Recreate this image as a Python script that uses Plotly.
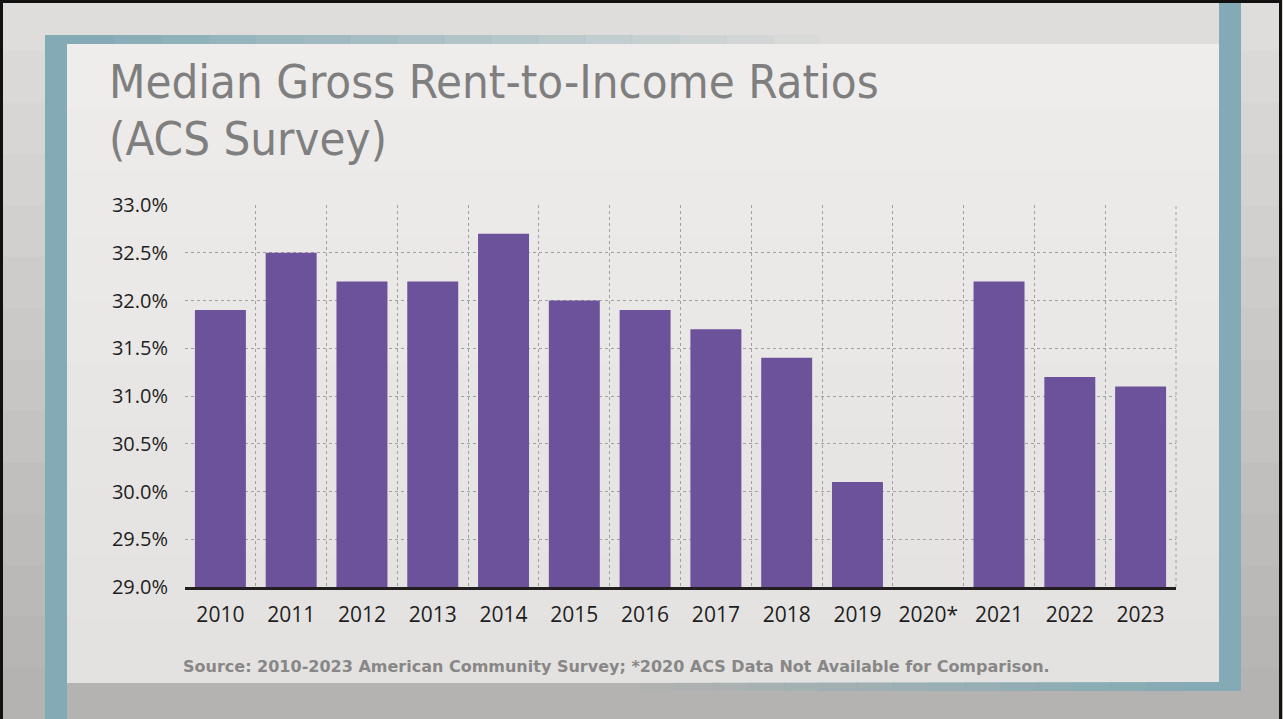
import plotly.graph_objects as go

# Median gross rent as a share of household income, ACS 1-year estimates
years = ["2010", "2011", "2012", "2013", "2014", "2015", "2016",
         "2017", "2018", "2019", "2020*", "2021", "2022", "2023"]
ratios = [31.9, 32.5, 32.2, 32.2, 32.7, 32.0, 31.9,
          31.7, 31.4, 30.1, None, 32.2, 31.2, 31.1]
y_ticks = [29.0, 29.5, 30.0, 30.5, 31.0, 31.5, 32.0, 32.5, 33.0]

title_lines = ["Median Gross Rent-to-Income Ratios", "(ACS Survey)"]
source_note = ("Source: 2010-2023 American Community Survey; "
               "*2020 ACS Data Not Available for Comparison.")

W, H = 1283, 719
L, R, T, B = 185, 1176, 205, 587   # plot area in pixels


def fx(px):
    return (px - L) / (R - L)


def fy(py):
    return (B - py) / (B - T)


TEAL = "#84abb5"

shapes = []

# outer backdrop: light at the top, darker toward the bottom
bands = 14
for i in range(bands):
    t = i / (bands - 1)
    c = int(222 - 42 * t)
    shapes.append(dict(type="rect", xref="paper", yref="paper",
                       x0=fx(0), x1=fx(W), y0=fy((i + 1) * H / bands + 1), y1=fy(i * H / bands),
                       fillcolor=f"rgb({c},{c - 1},{c - 3})", line_width=0, layer="below"))

# slide panel, slightly greyer toward the bottom
pbands = 10
for i in range(pbands):
    t = i / (pbands - 1)
    c0 = int(239 - 11 * t)
    y0p = 44 + i * (682 - 44) / pbands
    y1p = 44 + (i + 1) * (682 - 44) / pbands + 1
    shapes.append(dict(type="rect", xref="paper", yref="paper",
                       x0=fx(67), x1=fx(1219), y0=fy(y1p), y1=fy(y0p),
                       fillcolor=f"rgb({c0},{c0 - 2},{c0 - 4})", line_width=0, layer="below"))

# teal frame: left and right bars
shapes.append(dict(type="rect", xref="paper", yref="paper",
                   x0=fx(45), x1=fx(67), y0=fy(H + 2), y1=fy(35),
                   fillcolor=TEAL, line_width=0, layer="below"))
shapes.append(dict(type="rect", xref="paper", yref="paper",
                   x0=fx(1219), x1=fx(1241), y0=fy(691), y1=fy(0),
                   fillcolor=TEAL, line_width=0, layer="below"))

# top bar fading out to the right, bottom bar fading out to the left
segs = 16
for i in range(segs):
    a = 1 - i / segs
    xa = 67 + i * (820 - 67) / segs
    xb = 67 + (i + 1) * (820 - 67) / segs + 0.5
    shapes.append(dict(type="rect", xref="paper", yref="paper",
                       x0=fx(xa), x1=fx(xb), y0=fy(44), y1=fy(35),
                       fillcolor=f"rgba(132,171,181,{a:.3f})", line_width=0, layer="below"))
    xa2 = 1219 - (i + 1) * (1219 - 640) / segs - 0.5
    xb2 = 1219 - i * (1219 - 640) / segs
    shapes.append(dict(type="rect", xref="paper", yref="paper",
                       x0=fx(xa2), x1=fx(xb2), y0=fy(691), y1=fy(682),
                       fillcolor=f"rgba(132,171,181,{a:.3f})", line_width=0, layer="below"))

# outer black border
shapes.append(dict(type="rect", xref="paper", yref="paper",
                   x0=fx(1.5), x1=fx(W - 2.5), y0=fy(H + 5), y1=fy(1.5),
                   fillcolor="rgba(0,0,0,0)", line=dict(color="#111111", width=3),
                   layer="above"))

# right border of the grid box
shapes.append(dict(type="line", xref="paper", yref="paper",
                   x0=1, x1=1, y0=0, y1=1,
                   line=dict(color="#a0a0a0", width=1, dash="3px,3px"), layer="below"))

fig = go.Figure()
fig.add_trace(go.Bar(
    x=years, y=ratios,
    marker=dict(color="#6b529b", line_width=0),
    hovertemplate="%{x}: %{y:.1f}%<extra></extra>",
))

title_font = dict(family="DejaVu Sans Condensed, DejaVu Sans", size=47, color="#7f7f7f")

fig.update_layout(
    width=W, height=H,
    margin=dict(l=L, r=W - R, t=T, b=H - B, pad=0),
    paper_bgcolor="#d6d4d0",
    plot_bgcolor="rgba(0,0,0,0)",
    showlegend=False,
    bargap=0.28,
    shapes=shapes,
    xaxis=dict(
        type="category",
        tickson="boundaries",
        showgrid=True, gridcolor="#a0a0a0", griddash="3px,3px", gridwidth=1,
        showline=True, linecolor="#231f20", linewidth=3,
        ticks="", ticklabelstandoff=7,
        tickfont=dict(family="Open Sans", size=21, color="#1e1e1e"),
        zeroline=False,
    ),
    yaxis=dict(
        range=[29, 33],
        tickvals=y_ticks,
        ticktext=[f"{v:.1f}%" for v in y_ticks],
        showgrid=True, gridcolor="#a0a0a0", griddash="3px,3px", gridwidth=1,
        showline=False, zeroline=False,
        ticks="", ticklabelstandoff=16,
        tickfont=dict(family="Open Sans", size=20, color="#1e1e1e"),
    ),
    annotations=[
        dict(text=title_lines[0], xref="paper", yref="paper",
             x=fx(107), y=fy(52), xanchor="left", yanchor="top", showarrow=False,
             font=title_font),
        dict(text=title_lines[1], xref="paper", yref="paper",
             x=fx(107), y=fy(109), xanchor="left", yanchor="top", showarrow=False,
             font=title_font),
        dict(text=source_note, xref="paper", yref="paper",
             x=fx(616), y=fy(666), xanchor="center", yanchor="middle", showarrow=False,
             font=dict(family="DejaVu Sans", size=16, color="#878787", weight="bold")),
    ],
)

fig.write_html("out.html")
